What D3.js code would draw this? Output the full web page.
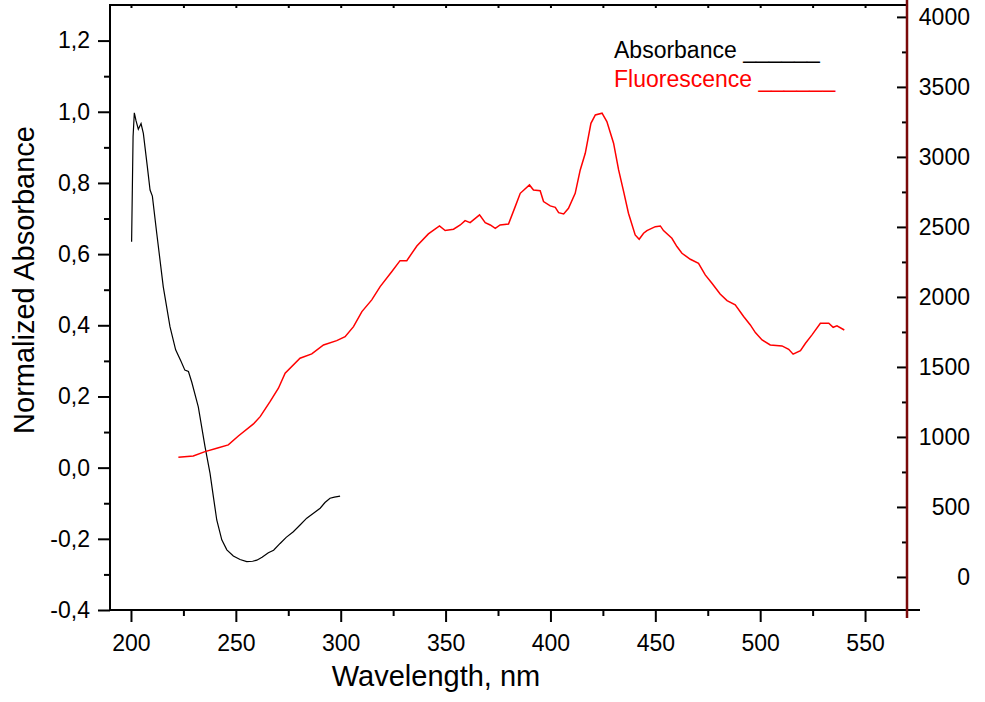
<!DOCTYPE html>
<html>
<head>
<meta charset="utf-8">
<script src="https://cdn.jsdelivr.net/npm/d3@7"></script>
<style>
  body { margin: 0; background: #fff; }
  svg { display: block; font-family: 'Liberation Sans', Arial, sans-serif; }
</style>
</head>
<body>
<svg id="chart"></svg>
<script>
// absorbance (left axis)
const absWl = [200.3, 201.0, 201.6, 202.4, 203.5, 204.8, 205.9, 207.8, 209.1, 210.2, 212.3, 215.4,
  218.6, 221.3, 223.9, 225.7, 227.4, 229.0, 232.1, 235.3, 237.7, 239.3, 240.9, 243.3, 245.7,
  248.8, 252.0, 255.2, 258.0, 260.0, 262.5, 265.5, 268.0, 271.1, 274.0, 277.4, 280.5, 283.8,
  287.0, 290.2, 292.5, 294.9, 297.0, 299.7];
const absVal = [0.635, 0.93, 0.997, 0.975, 0.951, 0.967, 0.939, 0.846, 0.780, 0.763, 0.658, 0.508,
  0.396, 0.331, 0.298, 0.274, 0.270, 0.240, 0.171, 0.059, -0.016, -0.082, -0.147, -0.203, -0.231,
  -0.248, -0.258, -0.264, -0.263, -0.260, -0.252, -0.239, -0.232, -0.213, -0.196, -0.180, -0.162,
  -0.142, -0.128, -0.114, -0.098, -0.086, -0.083, -0.080];

// fluorescence (right axis)
const flWl = [222.6, 229.7, 235.3, 240.9, 246.4, 251.2, 258.4, 261.6, 266.3, 270.3, 273.5, 280.6,
  286.2, 291.8, 298.1, 302.1, 306.1, 310.1, 314.8, 318.8, 324.4, 328.3, 331.5, 336.3, 341.8,
  347.1, 349.8, 353.8, 357.0, 359.3, 361.7, 366.2, 368.9, 371.3, 373.7, 376.0, 380.0, 383.2,
  385.6, 390.0, 391.9, 395.1, 396.7, 399.9, 402.3, 403.9, 406.3, 408.6, 411.8, 414.2, 416.6,
  419.3, 421.4, 424.6, 426.9, 430.1, 432.5, 434.9, 437.2, 440.4, 442.3, 444.4, 446.0, 450.0,
  452.4, 453.9, 457.9, 460.3, 462.7, 466.7, 470.6, 473.8, 477.0, 480.9, 484.2, 488.1, 492.1,
  495.3, 497.7, 500.9, 504.8, 510.4, 513.6, 515.7, 519.2, 521.6, 524.7, 528.7, 532.7, 534.8,
  536.6, 540.1];
const flVal = [855, 864, 895, 919, 943, 1007, 1093, 1145, 1252, 1348, 1455, 1562,
  1593, 1657, 1688, 1716, 1788, 1895, 1979, 2074, 2181, 2259, 2259, 2364, 2450,
  2507, 2474, 2484, 2514, 2545, 2531, 2586, 2531, 2514, 2490, 2514, 2521, 2645,
  2740, 2800, 2764, 2759, 2681, 2650, 2640, 2602, 2593, 2633, 2740, 2907, 3026,
  3240, 3300, 3312, 3252, 3098, 2907, 2752, 2598, 2443, 2412, 2455, 2474, 2502,
  2507, 2474, 2419, 2360, 2312, 2269, 2240, 2157, 2098, 2021, 1974, 1943, 1860,
  1800, 1745, 1693, 1657, 1650, 1626, 1591, 1617, 1669, 1729, 1812, 1812, 1783,
  1793, 1764];

const xMajor = [200, 250, 300, 350, 400, 450, 500, 550];
const xMinor = [225, 275, 325, 375, 425, 475, 525];
const yMajor = [-0.4, -0.2, 0, 0.2, 0.4, 0.6, 0.8, 1.0, 1.2];
const yMinor = [-0.3, -0.1, 0.1, 0.3, 0.5, 0.7, 0.9, 1.1];
const y2Major = [0, 500, 1000, 1500, 2000, 2500, 3000, 3500, 4000];
const y2Minor = [250, 750, 1250, 1750, 2250, 2750, 3250, 3750];

const width = 985;
const height = 702;
const padLeft = 110;
const padRight = 907;
const padTop = 5;
const padBot = 610;

const svg = d3.select('#chart').attr('width', width).attr('height', height);

const xScale = d3.scaleLinear().domain([190, 570]).range([padLeft, padRight]);
const yScale = d3.scaleLinear().domain([-0.4, 1.3]).range([padBot, padTop]);
const y2Scale = d3.scaleLinear().domain([-236, 4085]).range([padBot, padTop]);

const commaFmt = d => (d < 0 ? '-' : '') + Math.abs(d).toFixed(1).replace('.', ',');

function styleAxis(g, size) {
  g.selectAll('.domain').remove();
  g.selectAll('.tick line').attr('stroke', '#000').attr('stroke-width', 2);
  g.selectAll('.tick text').attr('fill', '#000').style('font-size', size + 'px');
}

/* Bottom axis */
svg.append('g')
  .attr('transform', `translate(0, ${padBot})`)
  .call(d3.axisBottom(xScale).tickValues(xMinor).tickSize(6).tickFormat(''))
  .call(g => styleAxis(g, 23));
svg.append('g')
  .attr('transform', `translate(0, ${padBot})`)
  .call(d3.axisBottom(xScale).tickValues(xMajor).tickSize(12).tickPadding(13))
  .call(g => styleAxis(g, 23));

/* Top axis, small inward ticks */
svg.append('g')
  .attr('transform', `translate(0, ${padTop})`)
  .call(d3.axisBottom(xScale).tickValues(xMajor.concat(xMinor)).tickSize(3).tickFormat(''))
  .call(g => styleAxis(g, 23));

/* Left axis */
svg.append('g')
  .attr('transform', `translate(${padLeft}, 0)`)
  .call(d3.axisLeft(yScale).tickValues(yMinor).tickSize(6).tickFormat(''))
  .call(g => styleAxis(g, 23));
svg.append('g')
  .attr('transform', `translate(${padLeft}, 0)`)
  .call(d3.axisLeft(yScale).tickValues(yMajor).tickSize(12).tickPadding(8).tickFormat(commaFmt))
  .call(g => styleAxis(g, 23));

/* Right axis, ticks pointing inward, labels right-aligned */
svg.append('g')
  .attr('transform', `translate(${padRight}, 0)`)
  .call(d3.axisLeft(y2Scale).tickValues(y2Minor).tickSize(5).tickFormat(''))
  .call(g => styleAxis(g, 23));
svg.append('g')
  .attr('transform', `translate(${padRight}, 0)`)
  .call(d3.axisLeft(y2Scale).tickValues(y2Major).tickSize(10).tickFormat(d3.format('d')))
  .call(g => styleAxis(g, 23))
  .call(g => g.selectAll('.tick text').attr('x', 970 - padRight).attr('text-anchor', 'end'));

/* Frame */
svg.append('line')
  .attr('x1', padLeft).attr('x2', padRight + 13).attr('y1', padBot).attr('y2', padBot)
  .attr('stroke', '#000').attr('stroke-width', 2);
svg.append('line')
  .attr('x1', padLeft).attr('x2', padRight).attr('y1', padTop).attr('y2', padTop)
  .attr('stroke', '#000').attr('stroke-width', 2);
svg.append('line')
  .attr('x1', padLeft).attr('x2', padLeft).attr('y1', padTop - 1).attr('y2', padBot + 1)
  .attr('stroke', '#000').attr('stroke-width', 2);
svg.append('line')
  .attr('x1', padRight).attr('x2', padRight).attr('y1', 0).attr('y2', padBot + 8)
  .attr('stroke', '#7a0a0a').attr('stroke-width', 2.5);

/* Curves */
const absLine = d3.line().x((d, i) => xScale(absWl[i])).y(d => yScale(d));
const flLine = d3.line().x((d, i) => xScale(flWl[i])).y(d => y2Scale(d));

svg.append('path')
  .datum(absVal)
  .attr('d', absLine)
  .attr('fill', 'none')
  .attr('stroke', '#000')
  .attr('stroke-width', 1.2);

svg.append('path')
  .datum(flVal)
  .attr('d', flLine)
  .attr('fill', 'none')
  .attr('stroke', '#ff0000')
  .attr('stroke-width', 1.5);

/* Legend */
svg.append('text')
  .attr('x', 614).attr('y', 58)
  .style('font-size', '23px').attr('fill', '#000')
  .text('Absorbance ______');
svg.append('text')
  .attr('x', 614).attr('y', 87)
  .style('font-size', '23px').attr('fill', '#ff0000')
  .text('Fluorescence ______');

/* Axis titles */
svg.append('text')
  .attr('x', 436).attr('y', 686)
  .attr('text-anchor', 'middle')
  .style('font-size', '29px')
  .text('Wavelength, nm');
svg.append('text')
  .attr('transform', 'translate(34, 280) rotate(-90)')
  .attr('text-anchor', 'middle')
  .style('font-size', '29px')
  .text('Normalized Absorbance');
</script>
</body>
</html>
